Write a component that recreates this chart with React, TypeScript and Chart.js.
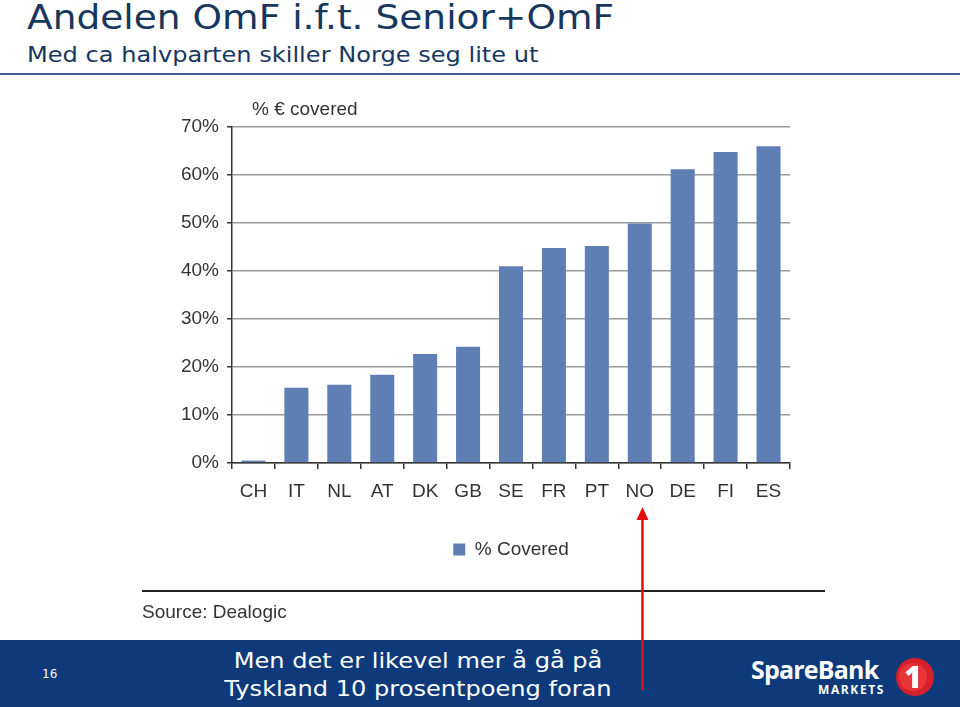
import React, { useEffect, useRef } from "react";
import { Chart, registerables } from "chart.js";

Chart.register(...registerables);

const categories = ["CH", "IT", "NL", "AT", "DK", "GB", "SE", "FR", "PT", "NO", "DE", "FI", "ES"];
const coveredValues = [0.5, 15.7, 16.3, 18.4, 22.7, 24.2, 41.0, 44.8, 45.2, 49.9, 61.2, 64.8, 66.0];
const yTickValues = [0, 10, 20, 30, 40, 50, 60, 70];
const seriesLabel = "% Covered";
const yAxisTitle = "% € covered";
const sourceText = "Source: Dealogic";
const titleText = "Andelen OmF i.f.t. Senior+OmF";
const subtitleText = "Med ca halvparten skiller Norge seg lite ut";
const footerLines = ["Men det er likevel mer å gå på", "Tyskland 10 prosentpoeng foran"];
const pageNumber = "16";

const BAR = "#5f7fb4";
const TXT = "#333333";
const NAVY = "#17375e";
const CHART_FONT = "'Liberation Sans', Arial, sans-serif";
const SLIDE_FONT = "'DejaVu Sans', Verdana, sans-serif";

const centerLegendOnPlot = {
  id: "centerLegendOnPlot",
  afterLayout(chart: any) {
    const lg = chart.legend;
    if (!lg) return;
    lg.left = chart.chartArea.left;
    lg.right = chart.chartArea.right;
    lg.width = lg.right - lg.left;
  },
};

export default function App() {
  const ref = useRef<HTMLCanvasElement | null>(null);

  useEffect(() => {
    if (!ref.current) return;
    const chart = new Chart(ref.current, {
      type: "bar",
      data: {
        labels: categories,
        datasets: [
          {
            label: seriesLabel,
            data: coveredValues,
            backgroundColor: BAR,
            borderWidth: 0,
            barPercentage: 0.56,
            categoryPercentage: 1,
          },
        ],
      },
      plugins: [centerLegendOnPlot],
      options: {
        responsive: false,
        animation: false,
        devicePixelRatio: 1,
        layout: { padding: { left: 150, right: 170, top: 127, bottom: 138 } },
        plugins: {
          tooltip: { enabled: false },
          legend: {
            display: true,
            position: "bottom",
            labels: {
              boxWidth: 12,
              boxHeight: 12,
              padding: 10,
              color: TXT,
              font: { family: CHART_FONT, size: 19 },
            },
          },
        },
        scales: {
          x: {
            afterFit: (s: any) => {
              s.height = 67;
            },
            border: { color: "#333", width: 1.5 },
            grid: {
              offset: true,
              drawOnChartArea: false,
              drawTicks: true,
              tickLength: 6,
              color: "#333",
              lineWidth: 1.5,
            },
            ticks: {
              padding: 11,
              color: TXT,
              font: { family: CHART_FONT, size: 19 },
              maxRotation: 0,
              autoSkip: false,
            },
          },
          y: {
            min: 0,
            max: 70,
            afterFit: (s: any) => {
              s.width = 82;
            },
            afterBuildTicks: (s: any) => {
              s.ticks = yTickValues.map((v) => ({ value: v }));
            },
            border: { color: "#333", width: 1.5 },
            grid: {
              color: "#9a9a9a",
              lineWidth: 1.5,
              drawTicks: true,
              tickLength: 5,
              tickColor: "#333",
            },
            ticks: {
              padding: 8,
              color: TXT,
              font: { family: CHART_FONT, size: 19 },
              callback: (v: any) => v + "%",
            },
          },
        },
      },
    });
    return () => chart.destroy();
  }, []);

  const stretch: React.CSSProperties = {
    position: "absolute",
    transform: "scaleX(1.12)",
    transformOrigin: "left center",
    whiteSpace: "nowrap",
    fontFamily: SLIDE_FONT,
    margin: 0,
  };

  return (
    <div
      style={{
        position: "fixed",
        left: 0,
        top: 0,
        width: 960,
        height: 707,
        background: "#fff",
        overflow: "hidden",
      }}
    >
      <div style={{ ...stretch, left: 27, top: -2, fontSize: 33.5, color: NAVY, lineHeight: "40px" }}>
        {titleText}
      </div>
      <div style={{ ...stretch, left: 27, top: 41, fontSize: 21.5, color: NAVY, lineHeight: "28px" }}>
        {subtitleText}
      </div>
      <div style={{ position: "absolute", left: 0, top: 73, width: 960, height: 2, background: "#3f6190" }} />

      <canvas ref={ref} width={960} height={707} style={{ position: "absolute", left: 0, top: 0 }} />

      <div
        style={{
          position: "absolute",
          left: 252,
          top: 97,
          fontFamily: CHART_FONT,
          fontSize: 19,
          color: TXT,
          lineHeight: "24px",
          whiteSpace: "nowrap",
        }}
      >
        {yAxisTitle}
      </div>

      <div style={{ position: "absolute", left: 142, top: 590, width: 683, height: 2, background: "#222" }} />
      <div
        style={{
          position: "absolute",
          left: 142,
          top: 600,
          fontFamily: CHART_FONT,
          fontSize: 19,
          color: TXT,
          lineHeight: "24px",
          whiteSpace: "nowrap",
        }}
      >
        {sourceText}
      </div>

      <div style={{ position: "absolute", left: 0, top: 640, width: 960, height: 67, background: "#0e3a7c" }} />
      <div
        style={{
          position: "absolute",
          left: 42,
          top: 666,
          fontFamily: SLIDE_FONT,
          fontSize: 12,
          color: "#fff",
          lineHeight: "16px",
        }}
      >
        {pageNumber}
      </div>
      <div
        style={{
          position: "absolute",
          left: 418,
          top: 647,
          transform: "translateX(-50%) scaleX(1.12)",
          fontFamily: SLIDE_FONT,
          fontSize: 21.5,
          lineHeight: "28px",
          color: "#fff",
          textAlign: "center",
          whiteSpace: "nowrap",
        }}
      >
        {footerLines.map((l) => (
          <div key={l}>{l}</div>
        ))}
      </div>

      <div
        style={{
          position: "absolute",
          left: 751,
          top: 654,
          fontFamily: "'Open Sans', 'DejaVu Sans', sans-serif",
          fontWeight: 700,
          fontSize: 25,
          lineHeight: "30px",
          color: "#fff",
          letterSpacing: -0.8,
          whiteSpace: "nowrap",
        }}
      >
        SpareBank
      </div>
      <div
        style={{
          position: "absolute",
          left: 818,
          top: 683,
          fontFamily: "'Open Sans', 'DejaVu Sans', sans-serif",
          fontWeight: 700,
          fontSize: 12,
          lineHeight: "14px",
          letterSpacing: 1.6,
          color: "#fff",
          whiteSpace: "nowrap",
        }}
      >
        MARKETS
      </div>
      <svg width={960} height={707} style={{ position: "absolute", left: 0, top: 0 }}>
        <circle cx={915} cy={677} r={19} fill="#d8202a" />
        <circle cx={913} cy={677} r={14} fill="#e8353a" />
        <text
          x={913}
          y={688}
          textAnchor="middle"
          fontFamily="'Open Sans', 'DejaVu Sans', sans-serif"
          fontWeight={800}
          fontSize={30}
          fill="#fff"
        >
          1
        </text>
        <line x1={642.5} y1={690} x2={642.5} y2={516} stroke="#e01010" strokeWidth={2.5} />
        <polygon points="642.5,507 636.5,520 648.5,520" fill="#e01010" />
      </svg>
    </div>
  );
}
